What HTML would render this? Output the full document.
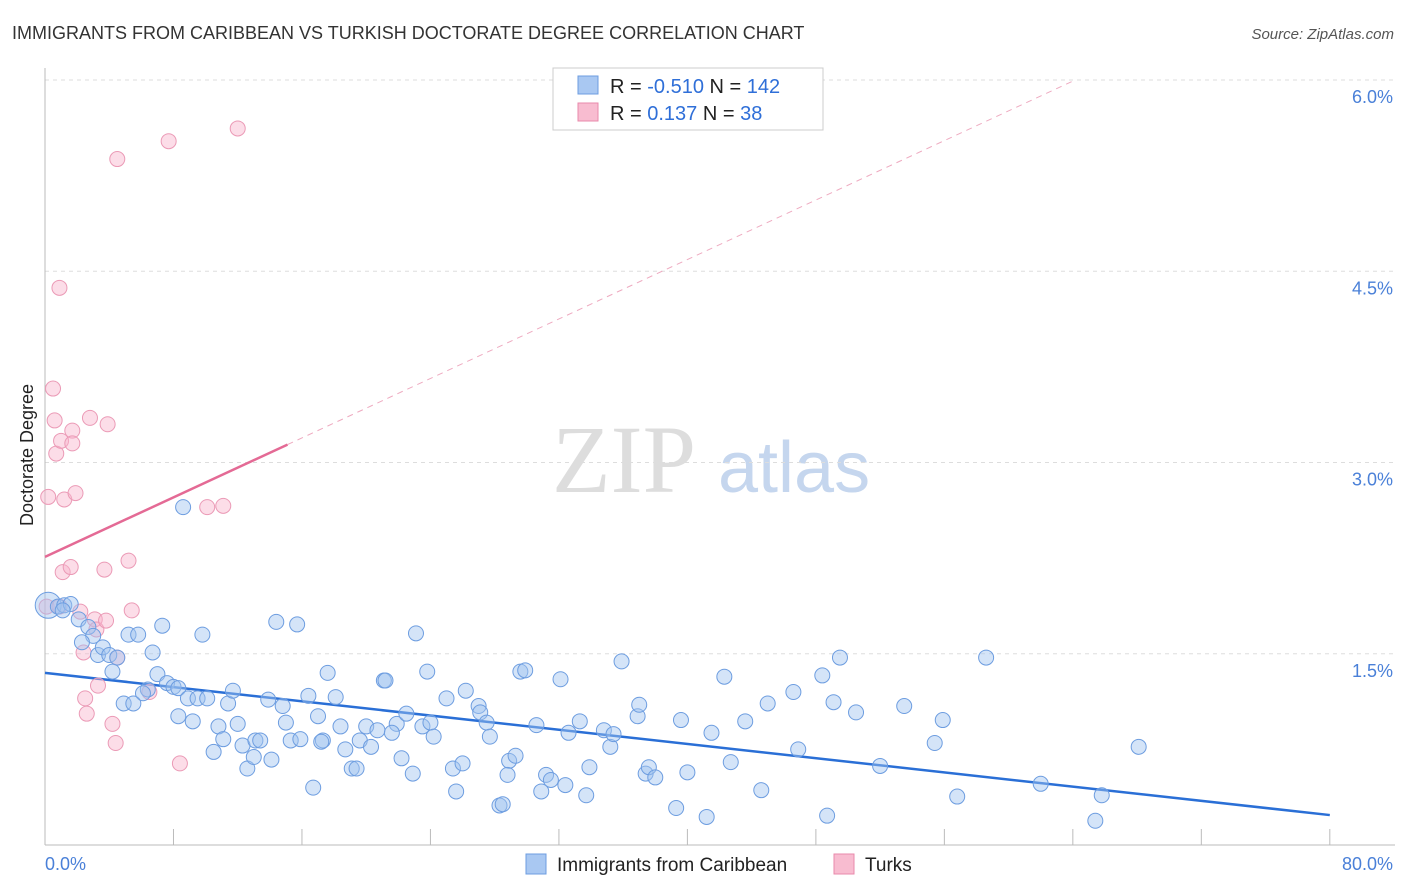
<!DOCTYPE html>
<html><head><meta charset="utf-8"><style>
body{margin:0;background:#fff;font-family:"Liberation Sans",sans-serif}
svg{display:block}
</style></head><body>
<svg id="c" width="1406" height="892">
<text x="12" y="39" font-size="18" fill="#333">IMMIGRANTS FROM CARIBBEAN VS TURKISH DOCTORATE DEGREE CORRELATION CHART</text>
<text x="1394" y="39" font-size="15" fill="#555" font-style="italic" text-anchor="end">Source: ZipAtlas.com</text>
<g>
<text x="552" y="492" font-size="96" fill="#ddd" font-family="Liberation Serif,serif">ZIP</text>
<text x="718" y="492" font-size="72" fill="#c5d6ee">atlas</text>
</g>
<g id="grid"></g><g id="axes"></g><g id="lines"></g><g id="pts"></g>
<text transform="translate(33,455) rotate(-90)" font-size="18" fill="#222" text-anchor="middle">Doctorate Degree</text>
<g>
<rect x="553" y="68" width="270" height="62" fill="#fff" stroke="#ccc"/>
<rect x="578" y="76" width="20" height="18" fill="#a9c8f2" stroke="#6d9de0"/>
<rect x="578" y="103" width="20" height="18" fill="#f8bcd0" stroke="#e98aab"/>
<text x="610" y="93" font-size="20" fill="#222">R = <tspan fill="#2f6fd8">-0.510</tspan>   N = <tspan fill="#2f6fd8">142</tspan></text>
<text x="610" y="120" font-size="20" fill="#222">R =   <tspan fill="#2f6fd8">0.137</tspan>   N =   <tspan fill="#2f6fd8">38</tspan></text>
</g>
<g>
<rect x="526" y="854" width="20" height="20" fill="#a9c8f2" stroke="#6d9de0"/>
<text x="557" y="871" font-size="19" fill="#222">Immigrants from Caribbean</text>
<rect x="834" y="854" width="20" height="20" fill="#f8bcd0" stroke="#e98aab"/>
<text x="865" y="871" font-size="19" fill="#222">Turks</text>
</g>
</svg>
<script>
const yTicks=[1.5,3.0,4.5,6.0];
const yTickLabels=["1.5%","3.0%","4.5%","6.0%"];
const xTicks=[0,8,16,24,32,40,48,56,64,72,80];
const xTickLabels=["0.0%","80.0%"];
const blueX=[0.2,0.8,1.2,1.6,1.1,2.1,2.7,3.0,2.3,3.3,3.6,4.0,4.5,4.2,5.2,5.8,6.7,7.3,8.6,7.0,7.6,8.0,6.4,6.1,4.9,5.5,8.3,8.9,9.5,9.8,10.1,11.4,11.7,8.3,9.2,10.5,10.8,11.1,12.0,12.3,12.6,13.1,13.0,13.4,14.1,13.9,14.8,14.4,15.7,15.0,15.3,15.9,16.4,17.0,17.3,17.2,16.7,17.6,18.1,18.4,18.7,19.1,19.4,19.6,20.0,20.3,20.7,21.1,21.2,21.9,21.6,22.5,22.2,22.9,23.1,23.5,23.8,24.0,24.2,25.0,25.4,25.6,26.0,26.2,27.0,27.1,27.5,27.7,28.3,28.5,28.9,28.8,29.3,29.6,29.9,30.6,30.9,31.2,31.5,32.1,32.4,32.6,33.3,33.7,33.9,34.8,35.2,35.4,35.9,36.9,37.0,37.4,37.6,38.0,39.3,40.0,39.6,41.2,41.5,42.3,42.7,43.6,44.6,45.0,46.6,46.9,48.4,48.7,49.1,49.5,50.5,52.0,53.5,55.4,55.9,56.8,58.6,62.0,65.8,65.4,68.1];
const blueY=[1.88,1.87,1.88,1.89,1.84,1.77,1.71,1.64,1.59,1.49,1.55,1.49,1.47,1.36,1.65,1.65,1.51,1.72,2.65,1.34,1.27,1.24,1.22,1.19,1.11,1.11,1.23,1.15,1.15,1.65,1.15,1.11,1.21,1.01,0.97,0.73,0.93,0.83,0.95,0.78,0.60,0.82,0.69,0.82,0.67,1.14,1.09,1.75,1.73,0.96,0.82,0.83,1.17,1.01,0.82,0.81,0.45,1.35,1.16,0.93,0.75,0.60,0.60,0.82,0.93,0.77,0.90,1.29,1.29,0.95,0.88,1.03,0.68,0.56,1.66,0.93,1.36,0.96,0.85,1.15,0.60,0.42,0.64,1.21,1.09,1.04,0.96,0.85,0.31,0.32,0.66,0.55,0.70,1.36,1.37,0.94,0.42,0.55,0.51,1.30,0.47,0.88,0.97,0.39,0.61,0.90,0.77,0.87,1.44,1.01,1.10,0.56,0.61,0.53,0.29,0.57,0.98,0.22,0.88,1.32,0.65,0.97,0.43,1.11,1.20,0.75,1.33,0.23,1.12,1.47,1.04,0.62,1.09,0.80,0.98,0.38,1.47,0.48,0.39,0.19,0.77];
const pinkX=[0.2,0.5,0.6,0.7,0.9,1.0,1.2,1.1,1.6,1.7,1.7,1.9,2.2,2.4,2.5,2.6,2.8,3.1,3.2,3.3,3.7,3.8,3.9,4.2,4.4,4.5,4.5,5.2,5.4,6.5,7.7,8.4,10.1,11.1,12.0,0.1,0.9];
const pinkY=[2.73,3.58,3.33,3.07,4.37,3.17,2.71,2.14,2.18,3.25,3.15,2.76,1.83,1.51,1.15,1.03,3.35,1.77,1.69,1.25,2.16,1.76,3.30,0.95,0.80,5.38,1.47,2.23,1.84,1.20,5.52,0.64,2.65,2.66,5.62,1.87,1.87];
const blueFit=[1.35,-0.01394];
const pinkFit=[2.26,0.0583];
const pinkSolidEnd=15.1, pinkDashEnd=64.1;

const NS="http://www.w3.org/2000/svg";
const sx=v=>45+v*16.06, sy=v=>845-v*127.5;
function mk(t,a,p){const e=document.createElementNS(NS,t);for(const k in a)e.setAttribute(k,a[k]);p.appendChild(e);return e;}
const grid=document.getElementById('grid'),axes=document.getElementById('axes'),lines=document.getElementById('lines'),pts=document.getElementById('pts');
yTicks.forEach((v,i)=>{
 const l=mk('line',{x1:45,x2:1395,y1:sy(v),y2:sy(v),stroke:'#ddd','stroke-dasharray':'4,4'},grid);
 
 
 const t=mk('text',{x:1393,y:sy(v)+23,'font-size':18,fill:'#4a80d8','text-anchor':'end'},axes);
 t.textContent=yTickLabels[i];
 
 
});
let a=mk('line',{x1:45,x2:45,y1:68,y2:845,stroke:'#bbb'},axes);


a=mk('line',{x1:45,x2:1395,y1:845,y2:845,stroke:'#bbb'},axes);


xTicks.forEach(v=>{
 const l=mk('line',{x1:sx(v),x2:sx(v),y1:829,y2:845,stroke:'#bbb'},axes);
 
 
});
let t=mk('text',{x:45,y:870,'font-size':18,fill:'#4a80d8'},axes);t.textContent=xTickLabels[0];


t=mk('text',{x:1393,y:870,'font-size':18,fill:'#4a80d8','text-anchor':'end'},axes);t.textContent=xTickLabels[1];


pinkX.forEach((x,i)=>{
 const c=mk('circle',{cx:sx(x),cy:sy(pinkY[i]),r:7.5,fill:'rgba(248,180,204,0.45)',stroke:'#eb9ab6','stroke-width':1},pts);
 
 
});
blueX.forEach((x,i)=>{
 const c=mk('circle',{cx:sx(x),cy:sy(blueY[i]),r:i==0?13:7.5,fill:'rgba(160,195,240,0.45)',stroke:'#6d9de0','stroke-width':1},pts);
 
 
});
let l=mk('line',{x1:sx(0),y1:sy(blueFit[0]),x2:sx(80),y2:sy(blueFit[0]+blueFit[1]*80),stroke:'#2a6fd6','stroke-width':2.5},lines);


l=mk('line',{x1:sx(0),y1:sy(pinkFit[0]),x2:sx(pinkSolidEnd),y2:sy(pinkFit[0]+pinkFit[1]*pinkSolidEnd),stroke:'#e46a95','stroke-width':2.5},lines);


l=mk('line',{x1:sx(pinkSolidEnd),y1:sy(pinkFit[0]+pinkFit[1]*pinkSolidEnd),x2:sx(pinkDashEnd),y2:sy(pinkFit[0]+pinkFit[1]*pinkDashEnd),stroke:'#eeaac0','stroke-width':1,'stroke-dasharray':'6,5'},lines);


</script>
</body></html>
